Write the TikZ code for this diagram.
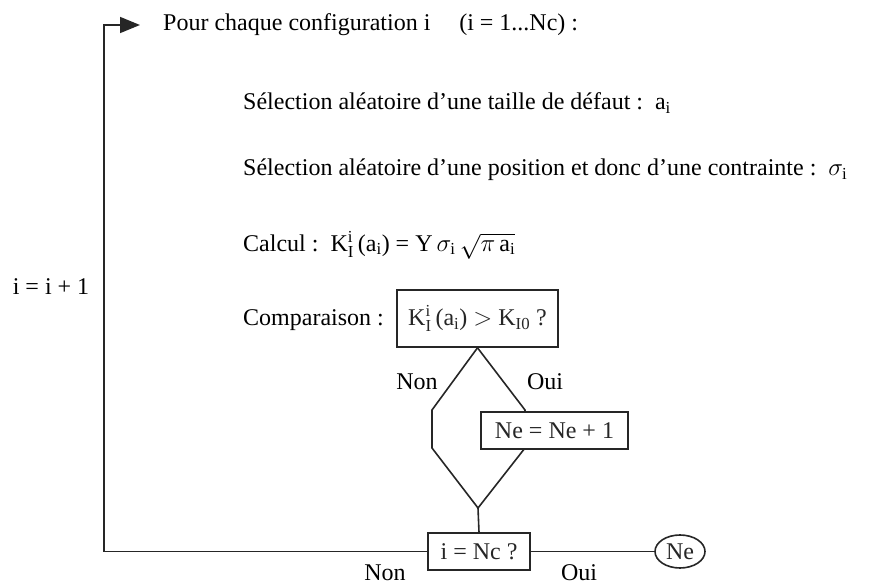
\documentclass[tikz,border=0pt]{standalone}
\usepackage{fontspec}
\setmainfont{Liberation Serif}
\usetikzlibrary{arrows.meta,shapes.geometric}
\begin{document}
\begin{tikzpicture}[x=1pt,y=-1pt,
  every node/.style={font=\fontsize{24}{28}\selectfont, inner sep=0pt},
  ln/.style={line width=1.6pt, black!85},
  boxed/.style={draw, line width=1.6pt, black!85, fill=white, rectangle},
  lbl/.style={anchor=west}]
\useasboundingbox (0,0) rectangle (879,588);
% texts
\node[lbl] (title) at (163,25) {Pour chaque configuration i\hspace{1.2em}(i = 1...Nc) :};
\node[lbl] (sel1) at (243,103) {Sélection aléatoire d'une taille de défaut :\ \ a$_{\mathrm{i}}$};
\node[lbl] (sel2) at (243,170) {Sélection aléatoire d'une position et donc d'une contrainte :\ \ $\sigma_{\mathrm{i}}$};
\node[lbl] (calc) at (243,245) {Calcul :\ \ K$^{\mathrm{i}}_{\mathrm{I}}$\,(a$_{\mathrm{i}}$) = Y\,$\sigma_{\mathrm{i}}\,\sqrt{\pi\,\mathrm{a}_{\mathrm{i}}}$};
\node[lbl] (comp) at (243,320) {Comparaison :};
\node[boxed, minimum width=161pt, minimum height=57pt] (cbox) at (477.5,318.5) {K$^{\mathrm{i}}_{\mathrm{I}}$\,(a$_{\mathrm{i}}$) $>$ K$_{\mathrm{I0}}$ ?};
\node (iinc) at (51,287) {i = i + 1};
% hexagon
\coordinate (hl1) at (432,410);
\coordinate (hl2) at (432,448);
\coordinate (hr1) at (525,410);
\coordinate (hr2) at (525,448);
\coordinate (hb) at (478,508);
\draw[ln] (cbox.south) -- (hl1) -- (hl2) -- (hb);
\draw[ln] (cbox.south) -- (hr1) -- (hr2) -- (hb);
\node[boxed, minimum width=147pt, minimum height=37pt] (nebox) at (554.5,430.5) {Ne = Ne + 1};
\node (non1) at (417,382) {Non};
\node (oui1) at (545,382) {Oui};
% bottom
\node[boxed, minimum width=102pt, minimum height=37pt] (ibox) at (479,551.5) {i = Nc ?};
\node[draw, ellipse, line width=1.6pt, black!85, minimum width=50pt, minimum height=33pt, inner sep=0pt] (necirc) at (680,551.5) {Ne};
\node (non2) at (385,573) {Non};
\node (oui2) at (579,573) {Oui};
\draw[ln] (hb) -- (ibox.north);
\draw[ln] (ibox.east) -- (necirc.west);
\coordinate (lb) at (104,551.5);
\coordinate (lt) at (104,25);
\coordinate (tip) at (140,25);
\draw[ln, -{Triangle[length=20pt,width=16pt]}] (ibox.west) -- (lb) -- (lt) -- (tip);
\end{tikzpicture}
\end{document}
